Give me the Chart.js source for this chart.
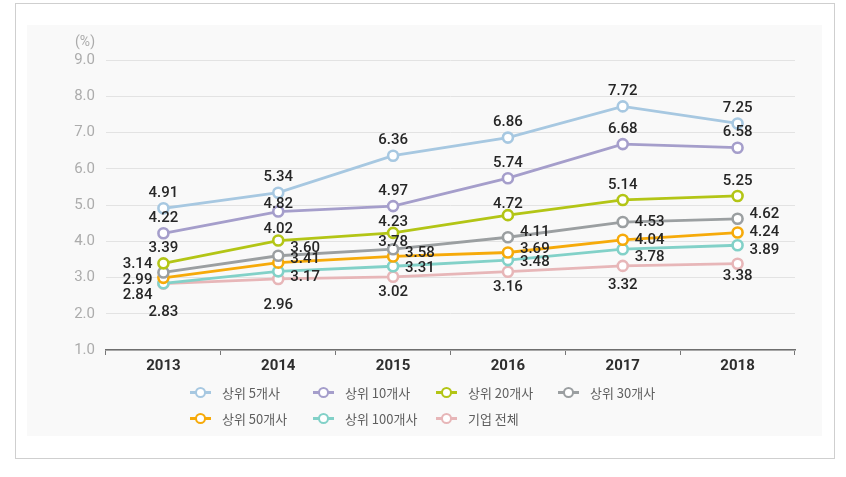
<!DOCTYPE html>
<html>
<head>
<meta charset="utf-8">
<script src="https://cdn.jsdelivr.net/npm/chart.js@4/dist/chart.umd.min.js"></script>
<style>
	body { margin: 0; background: #fff; }
	#wrap { position: relative; width: 846px; height: 477px; overflow: hidden; }
	#frame { position: absolute; left: 15px; top: 3px; width: 818px; height: 454px; border: 1px solid #cfcfcf; }
	#panel { position: absolute; left: 27px; top: 25px; width: 795px; height: 411px; background: #f9f9f9; }
	#chartBox { position: absolute; left: 0; top: 0; width: 846px; height: 477px; }
	#legend { position: absolute; left: 190px; top: 379px; display: grid; grid-template-columns: 123px 123px 122px 123px; grid-auto-rows: 26px; }
	#legend div { display: flex; align-items: center; font-family: 'Noto Sans CJK KR', sans-serif; font-size: 13px; color: #5f5f5f; white-space: nowrap; }
	#legend span.icon { position: relative; width: 21px; height: 12px; margin-right: 11px; }
	#legend span.icon::before { content: ''; position: absolute; left: 0; right: 0; top: 5px; height: 2.5px; background: var(--c); }
	#legend span.icon::after { content: ''; position: absolute; left: 5px; top: 0.5px; width: 7px; height: 7px; border: 2px solid var(--c); border-radius: 50%; background: #fff; }
</style>
</head>
<body>
<div id="wrap">
	<div id="frame"></div>
	<div id="panel"></div>
	<div id="chartBox"><canvas id="chart"></canvas></div>
	<div id="legend"></div>
</div>
<script>
'use strict';

const years = ['2013', '2014', '2015', '2016', '2017', '2018'];
const seriesNames = ['상위 5개사', '상위 10개사', '상위 20개사', '상위 30개사', '상위 50개사', '상위 100개사', '기업 전체'];
const top5 = [4.91, 5.34, 6.36, 6.86, 7.72, 7.25];
const top10 = [4.22, 4.82, 4.97, 5.74, 6.68, 6.58];
const top20 = [3.39, 4.02, 4.23, 4.72, 5.14, 5.25];
const top30 = [3.14, 3.60, 3.78, 4.11, 4.53, 4.62];
const top50 = [2.99, 3.41, 3.58, 3.69, 4.04, 4.24];
const top100 = [2.84, 3.17, 3.31, 3.48, 3.78, 3.89];
const allFirms = [2.83, 2.96, 3.02, 3.16, 3.32, 3.38];
const yTicks = [1, 2, 3, 4, 5, 6, 7, 8, 9];

const seriesValues = [top5, top10, top20, top30, top50, top100, allFirms];
const seriesColors = ['#a7c8e1', '#a59ecb', '#b3c516', '#9b9fa1', '#f6aa0a', '#82d1c8', '#e7b6b8'];

// where each value label sits next to its point: side and vertical nudge
const labelSpots = [
	[['t', -15], ['t', -15], ['t', -15], ['t', -15], ['t', -15], ['t', -15]],
	[['t', -15], ['t', -7], ['t', -15], ['t', -15], ['t', -15], ['t', -15]],
	[['t', -15], ['t', -11], ['t', -11], ['t', -11], ['t', -15], ['t', -15]],
	[['l', -8], ['r', -8], ['t', -7], ['r', -5], ['r', 0], ['r', -5]],
	[['l', 2], ['r', -3], ['r', -3], ['r', -3], ['r', 0], ['r', 0]],
	[['l', 12], ['r', 6], ['r', 2], ['r', 2], ['r', 8], ['r', 5]],
	[['b', 29], ['b', 26], ['b', 15], ['b', 16], ['b', 19], ['b', 13]]
];

const valueLabels = {
	id: 'valueLabels',
	afterDatasetsDraw(chart) {
		const ctx = chart.ctx;
		ctx.save();
		ctx.font = '500 15px Roboto';
		ctx.fillStyle = '#262626';
		ctx.textBaseline = 'middle';
		chart.data.datasets.forEach(function (ds, i) {
			chart.getDatasetMeta(i).data.forEach(function (pt, j) {
				const spot = labelSpots[i][j];
				let x = pt.x;
				if (spot[0] == 'r') {
					ctx.textAlign = 'left';
					x += 12;
				} else if (spot[0] == 'l') {
					ctx.textAlign = 'right';
					x -= 11;
				} else {
					ctx.textAlign = 'center';
				}
				ctx.fillText(ds.data[j].toFixed(2), x, pt.y + spot[1]);
			});
		});
		ctx.restore();
	}
};

const unitLabel = {
	id: 'unitLabel',
	afterDraw(chart) {
		const ctx = chart.ctx;
		ctx.save();
		ctx.font = '14px Roboto';
		ctx.fillStyle = '#ababab';
		ctx.textAlign = 'right';
		ctx.textBaseline = 'middle';
		ctx.fillText('(%)', chart.chartArea.left - 11, chart.chartArea.top - 18);
		ctx.restore();
	}
};

const datasets = seriesNames.map(function (name, i) {
	return {
		label: name,
		data: seriesValues[i],
		borderColor: seriesColors[i],
		backgroundColor: '#ffffff',
		pointBackgroundColor: '#ffffff',
		pointBorderColor: seriesColors[i],
		borderWidth: 2.8,
		pointRadius: 5,
		pointBorderWidth: 2.6,
		tension: 0,
		fill: false
	};
});

new Chart(document.getElementById('chart'), {
	type: 'line',
	data: { labels: years, datasets: datasets },
	options: {
		responsive: true,
		maintainAspectRatio: false,
		animation: false,
		layout: { padding: { top: 60, right: 51, bottom: 97, left: 0 } },
		plugins: {
			legend: { display: false },
			tooltip: { enabled: false }
		},
		scales: {
			x: {
				offset: true,
				grid: { offset: true, drawOnChartArea: false, drawTicks: true, tickLength: 5, color: '#777', lineWidth: 1 },
				border: { color: '#6f6f6f', width: 1.5 },
				ticks: { color: '#2e2e2e', padding: 2, font: { family: 'Roboto', size: 15, weight: 'bold' } },
				afterFit: (scale) => { scale.height = 30; }
			},
			y: {
				min: 1,
				max: 9,
				afterBuildTicks: (scale) => { scale.ticks = yTicks.map(v => ({ value: v })); },
				grid: { color: '#e3e3e3', lineWidth: 1, drawTicks: false },
				border: { display: false },
				ticks: {
					color: '#acacac',
					padding: 11,
					font: { family: 'Roboto', size: 15 },
					callback: (v) => Number(v).toFixed(1)
				},
				afterFit: (scale) => { scale.width = 106; }
			}
		}
	},
	plugins: [valueLabels, unitLabel]
});

// legend laid out as a 4-column grid like the original
const legendBox = document.getElementById('legend');
seriesNames.forEach(function (name, i) {
	const item = document.createElement('div');
	item.innerHTML = '<span class="icon" style="--c:' + seriesColors[i] + '"></span>' + name;
	legendBox.appendChild(item);
});
</script>
</body>
</html>
